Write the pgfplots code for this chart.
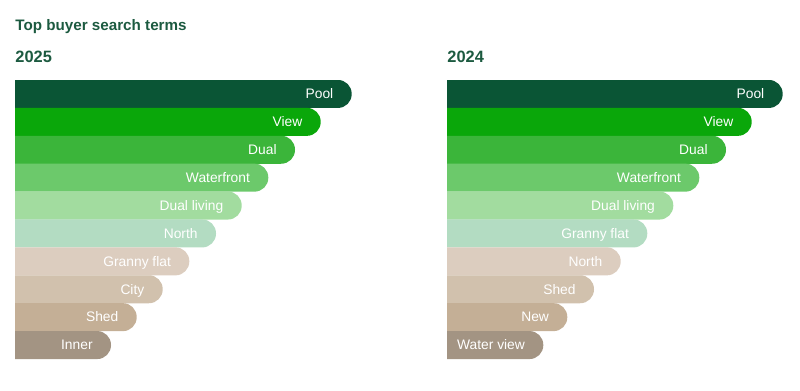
\documentclass[border=0pt]{standalone}
\usepackage{pgfplots}
\pgfplotsset{compat=1.18}
\usepackage{fontspec}
\setmainfont{Liberation Sans}
\definecolor{titlegreen}{RGB}{28,90,64}
\definecolor{c1}{RGB}{10,85,53}
\definecolor{c2}{RGB}{10,167,10}
\definecolor{c3}{RGB}{59,181,58}
\definecolor{c4}{RGB}{108,201,107}
\definecolor{c5}{RGB}{162,220,159}
\definecolor{c6}{RGB}{179,220,194}
\definecolor{c7}{RGB}{220,205,191}
\definecolor{c8}{RGB}{209,193,173}
\definecolor{c9}{RGB}{196,175,150}
\definecolor{c10}{RGB}{163,148,131}
\pgfplotsset{
  pill/.style={
    scale only axis, hide axis, xbar, bar width=14pt, bar shift=0pt,
    y dir=reverse, ymin=0.5, ymax=10.5, height=139.5pt,
    enlargelimits=false, clip=true,
    point meta=explicit symbolic, nodes near coords,
    every node near coord/.append style={anchor=base east, inner sep=0pt, xshift=-9pt, yshift=-2.4pt,
      text=white, font=\fontsize{6.9pt}{8pt}\selectfont},
    every axis plot/.append style={draw=none, rounded corners=6.9pt},
  }
}
\begin{document}
\begin{tikzpicture}
\useasboundingbox (0,0) rectangle (400pt,195.5pt);
\node[anchor=base west, inner sep=0pt, text=titlegreen, font=\bfseries\fontsize{7.6pt}{9pt}\selectfont] at (7.5pt,180.4pt) {Top buyer search terms};
\node[anchor=base west, inner sep=0pt, text=titlegreen, font=\bfseries\fontsize{8.2pt}{10pt}\selectfont] at (7.5pt,164.4pt) {2025};
\node[anchor=base west, inner sep=0pt, text=titlegreen, font=\bfseries\fontsize{8.2pt}{10pt}\selectfont] at (223.5pt,164.4pt) {2024};
\begin{scope}
\clip (7.5pt,0pt) rectangle (200pt,195.5pt);
\begin{axis}[pill, at={(0pt,16pt)}, anchor=south west, width=200pt, xmin=0, xmax=400]
\addplot[fill=c1] coordinates {(351.7,1) [Pool]};
\addplot[fill=c2] coordinates {(320.7,2) [View]};
\addplot[fill=c3] coordinates {(295.0,3) [Dual]};
\addplot[fill=c4] coordinates {(268.3,4) [Waterfront]};
\addplot[fill=c5] coordinates {(241.7,5) [Dual living]};
\addplot[fill=c6] coordinates {(216.0,6) [North]};
\addplot[fill=c7] coordinates {(189.3,7) [Granny flat]};
\addplot[fill=c8] coordinates {(162.7,8) [City]};
\addplot[fill=c9] coordinates {(136.7,9) [Shed]};
\addplot[fill=c10] coordinates {(111.0,10) [Inner]};
\end{axis}
\end{scope}
\begin{scope}
\clip (223.5pt,0pt) rectangle (400pt,195.5pt);
\begin{axis}[pill, at={(210pt,16pt)}, anchor=south west, width=190pt, xmin=420, xmax=800]
\addplot[fill=c1] coordinates {(782.7,1) [Pool]};
\addplot[fill=c2] coordinates {(751.7,2) [View]};
\addplot[fill=c3] coordinates {(726.0,3) [Dual]};
\addplot[fill=c4] coordinates {(699.3,4) [Waterfront]};
\addplot[fill=c5] coordinates {(673.3,5) [Dual living]};
\addplot[fill=c6] coordinates {(647.3,6) [Granny flat]};
\addplot[fill=c7] coordinates {(620.7,7) [North]};
\addplot[fill=c8] coordinates {(594.0,8) [Shed]};
\addplot[fill=c9] coordinates {(567.3,9) [New]};
\addplot[fill=c10] coordinates {(543.3,10) [Water view]};
\end{axis}
\end{scope}
\end{tikzpicture}
\end{document}
